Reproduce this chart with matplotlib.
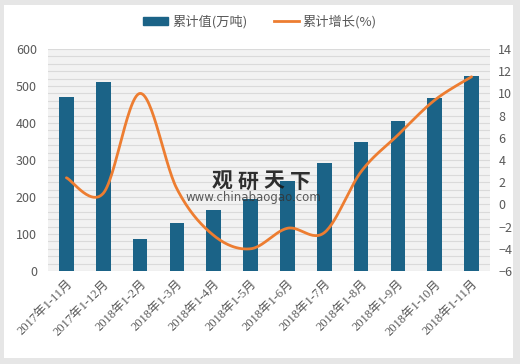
import matplotlib
matplotlib.use("Agg")
import matplotlib.pyplot as plt
import numpy as np
from matplotlib.patches import Rectangle
from matplotlib.lines import Line2D

plt.rcParams['font.family'] = ['Noto Sans CJK SC', 'DejaVu Sans']

categories = ["2017年1-11月", "2017年1-12月", "2018年1-2月", "2018年1-3月",
              "2018年1-4月", "2018年1-5月", "2018年1-6月", "2018年1-7月",
              "2018年1-8月", "2018年1-9月", "2018年1-10月", "2018年1-11月"]
cum_value = [470, 511, 86, 129, 166, 195, 244, 291, 349, 406, 467, 526]
cum_growth = [2.4, 1.0, 10.0, 1.4, -2.8, -4.0, -2.15, -2.55, 2.95, 6.25, 9.4, 11.5]
left_ticks = [0, 100, 200, 300, 400, 500, 600]
right_ticks = [-6, -4, -2, 0, 2, 4, 6, 8, 10, 12, 14]

BAR_C = "#1b6387"
LINE_C = "#ed7d31"
TXT_C = "#595959"

fig = plt.figure(figsize=(5.2, 3.64), dpi=100)
fig.patch.set_facecolor("#e6e6e6")
fig.add_artist(Rectangle((4/520, 1 - 358/364), 509/520, 353/364,
                         transform=fig.transFigure, facecolor="white",
                         edgecolor="none", zorder=0))

ax = fig.add_axes([48/520, 1 - 271/364, 442/520, 222/364])
ax.set_facecolor("#f2f2f2")
x = np.arange(len(categories))
ax.bar(x, cum_value, width=0.4, color=BAR_C, zorder=3)
ax.set_xlim(-0.5, len(categories) - 0.5)
ax.set_ylim(0, 600)
ax.set_yticks(left_ticks)
ax.set_yticks(np.arange(0, 601, 20), minor=True)
ax.grid(axis='y', which='both', color="#dadada", lw=0.8, zorder=0)
ax.tick_params(axis='y', which='both', length=0, labelsize=9, labelcolor=TXT_C, pad=8)
ax.set_xticks(x)
ax.set_xticklabels(categories, rotation=45, ha='right', rotation_mode='anchor',
                   fontsize=9, color=TXT_C,
                   family=['Liberation Serif', 'Noto Sans CJK SC'])
ax.tick_params(axis='x', length=0, pad=5)
for s in ax.spines.values():
    s.set_visible(False)

ax2 = ax.twinx()
ax2.set_ylim(-6, 14)
ax2.set_yticks(right_ticks)
ax2.tick_params(axis='y', length=0, labelsize=9, labelcolor=TXT_C, pad=6)
for s in ax2.spines.values():
    s.set_visible(False)

# smooth line (Bezier through the data points, like a spreadsheet smoothed line)
px = np.array(x, dtype=float)
py = np.array(cum_growth, dtype=float)
n = len(px)
sx, sy = [], []
t = np.linspace(0, 1, 30)
for i in range(n - 1):
    p0 = np.array([px[max(i - 1, 0)], py[max(i - 1, 0)]])
    p1 = np.array([px[i], py[i]])
    p2 = np.array([px[i + 1], py[i + 1]])
    p3 = np.array([px[min(i + 2, n - 1)], py[min(i + 2, n - 1)]])
    c1 = p1 + (p2 - p0) / 6
    c2 = p2 - (p3 - p1) / 6
    pts = ((1 - t)[:, None] ** 3) * p1 + 3 * ((1 - t)[:, None] ** 2) * t[:, None] * c1 \
        + 3 * (1 - t)[:, None] * (t[:, None] ** 2) * c2 + (t[:, None] ** 3) * p2
    sx.extend(pts[:, 0]); sy.extend(pts[:, 1])
ax2.plot(sx, sy, color=LINE_C, lw=2, zorder=4, solid_capstyle='round')

# watermark
for k, ch in enumerate("观研天下"):
    fig.text((222 + 26 * k)/520, 1 - 181/364, ch, fontsize=15, fontweight='bold',
             color="#1a1a1a", va='center', ha='center', alpha=0.9)
fig.text(185/520, 1 - 198/364, "www.chinabaogao.com", fontsize=8.5,
         color="#333333", va='center', ha='left', family='DejaVu Sans', alpha=0.8)

handles = [Rectangle((0, 0), 1, 1, color=BAR_C),
           Line2D([0], [0], color=LINE_C, lw=2)]
fig.legend(handles, ["累计值(万吨)", "累计增长(%)"], loc='center',
           bbox_to_anchor=(0.5, 1 - 22/364), ncol=2, frameon=False,
           fontsize=9.5, labelcolor=TXT_C, handlelength=1.9, handleheight=0.6,
           columnspacing=2.0, handletextpad=0.3)

fig.savefig("out.png", dpi=100, facecolor=fig.get_facecolor())
